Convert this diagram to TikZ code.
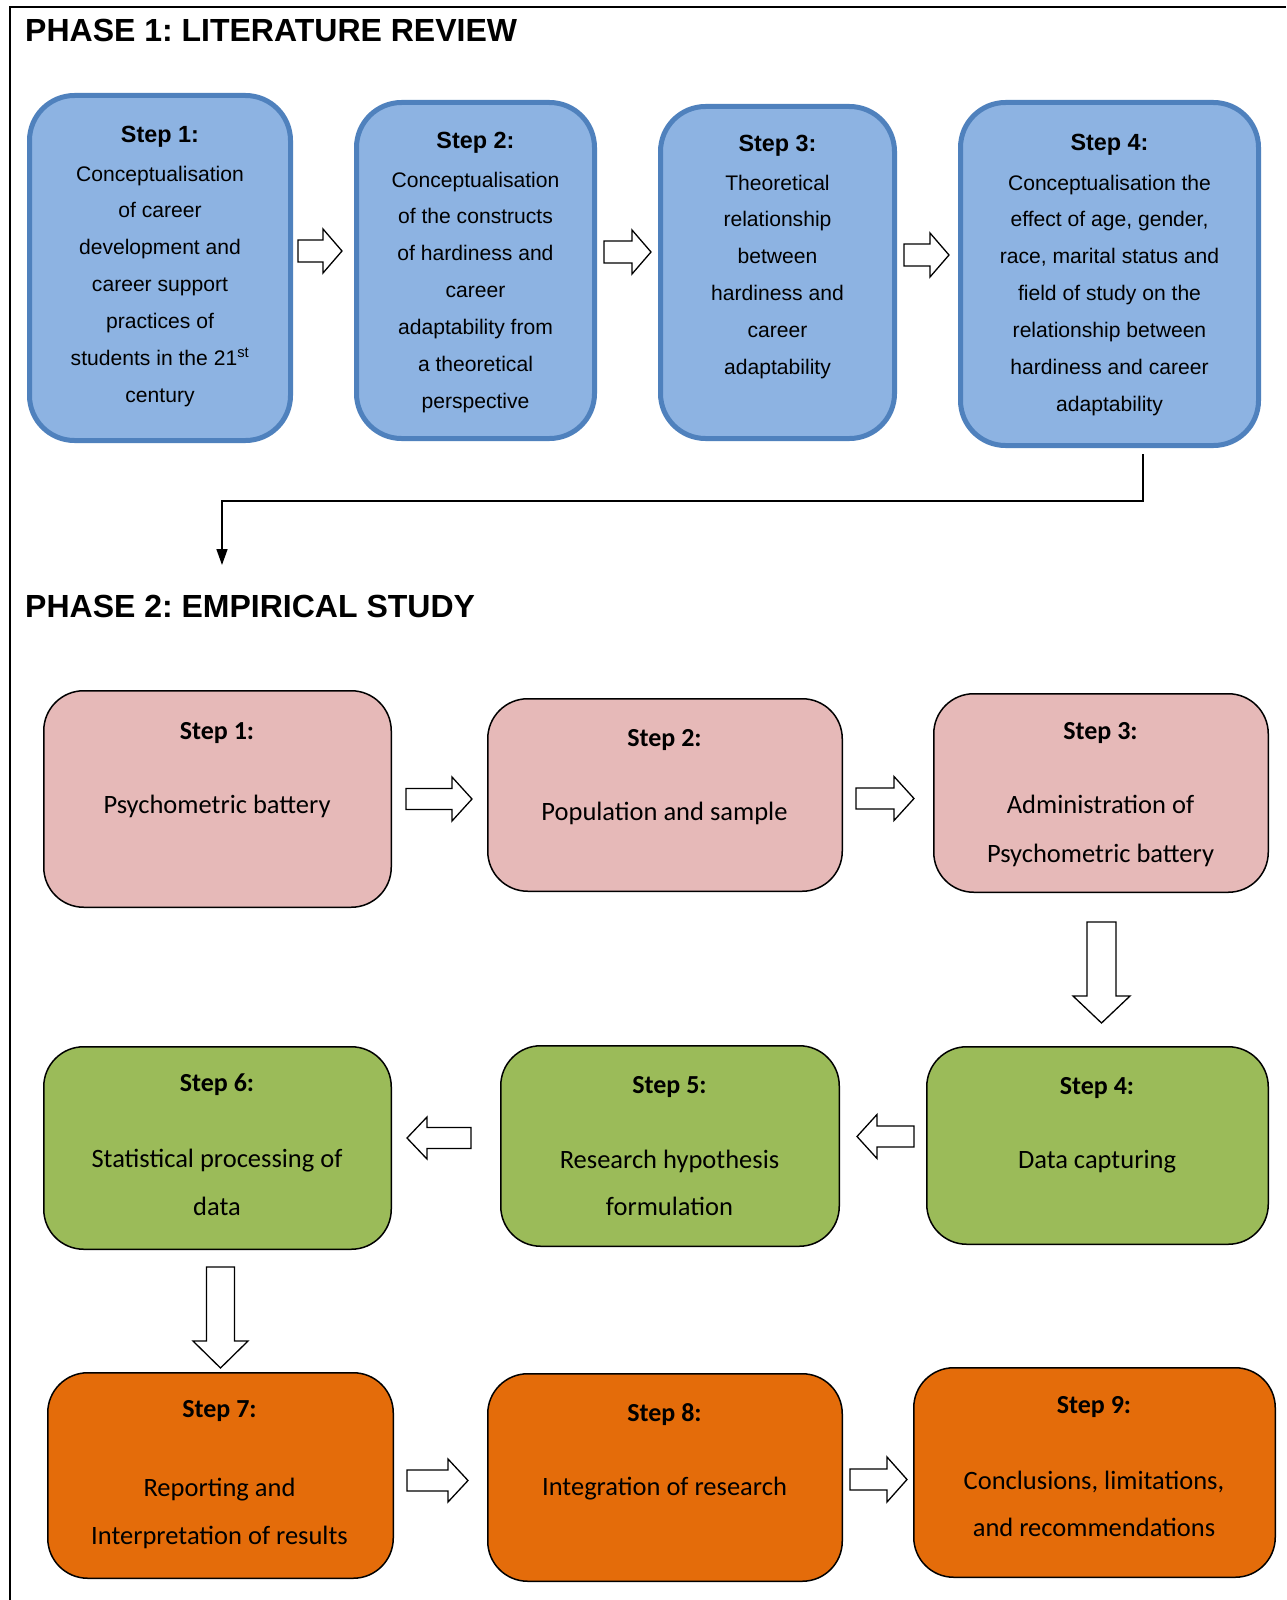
\documentclass[tikz,border=0pt]{standalone}
\usepackage{fontspec}
\setmainfont{Liberation Sans}
\newfontfamily\calibri{Carlito}
\usetikzlibrary{arrows.meta}
\frenchspacing

\definecolor{litfill}{HTML}{8DB3E2}
\definecolor{litedge}{HTML}{4F81BD}
\definecolor{pinkfill}{HTML}{E6B9B8}
\definecolor{greenfill}{HTML}{9BBB59}
\definecolor{orangefill}{HTML}{E46C0A}

\tikzset{
  litbox/.style={draw=litedge, fill=litfill, line width=5pt, rounded corners=45pt,
    inner sep=0pt, outer sep=0pt},
  empbox/.style={draw=black, line width=1.5pt, rounded corners=40pt,
    inner sep=0pt, outer sep=0pt},
  blockarrow/.style={draw=black, fill=white, line width=1.3pt, line join=miter},
  phasetitle/.style={inner sep=0pt, font=\bfseries\fontsize{32}{38}\selectfont},
  litstep/.style={inner sep=0pt, font=\fontsize{23.4}{28}\selectfont\bfseries},
  littext/.style={inner sep=0pt, font=\fontsize{21.1}{25}\selectfont},
  empstep/.style={inner sep=0pt, font=\calibri\fontsize{26}{30}\selectfont\bfseries},
  emptext/.style={inner sep=0pt, font=\calibri\fontsize{26.5}{30}\selectfont},
  flowline/.style={line width=1.6pt, -{Triangle[length=16pt,width=11pt]}},
}

% centred lines of text: name prefix, x, first baseline, line spacing, style, lines
\newcommand\textlines[6]{%
  \foreach \ln [count=\k from 0] in {#6}
    \node[#5, anchor=base] (#1-\k) at (#2, {#3+\k*#4}) {\ln};
}
% horizontal block arrow: tail x, tip x, centre y, half shaft, half head, head length (signed)
\newcommand\harrow[6]{%
  \draw[blockarrow] (#1,{#3-#4}) -- ({#2-(#6)},{#3-#4}) -- ({#2-(#6)},{#3-#5})
    -- (#2,#3) -- ({#2-(#6)},{#3+#5}) -- ({#2-(#6)},{#3+#4}) -- (#1,{#3+#4}) -- cycle;
}
% vertical block arrow: centre x, tail y, tip y, half shaft, half head, head length
\newcommand\varrow[6]{%
  \draw[blockarrow] ({#1-#4},#2) -- ({#1-#4},{#3-(#6)}) -- ({#1-#5},{#3-(#6)})
    -- (#1,#3) -- ({#1+#5},{#3-(#6)}) -- ({#1+#4},{#3-(#6)}) -- ({#1+#4},#2) -- cycle;
}

\begin{document}
\begin{tikzpicture}[x=1pt, y=-1pt]
\useasboundingbox (0,0) rectangle (1286,1600);
\fill[white] (0,0) rectangle (1286,1600);

% frame
\draw[line width=2pt] (10,1600) -- (10,7.5) -- (1286,7.5);

% ---------------- Phase 1 ----------------
\node[phasetitle, anchor=base west] (phase1) at (25,42) {PHASE 1: LITERATURE REVIEW};

\node[litbox, minimum width=261pt, minimum height=345pt] (lit1) at (160,268) {};
\node[litbox, minimum width=238pt, minimum height=336pt] (lit2) at (475.5,270.5) {};
\node[litbox, minimum width=234pt, minimum height=332pt] (lit3) at (777.5,272.5) {};
\node[litbox, minimum width=298pt, minimum height=343pt] (lit4) at (1109.5,274) {};

\node[litstep, anchor=base] (lit1-step) at (160,142.3) {Step 1:};
\textlines{lit1-t}{160}{181}{36.85}{littext}{Conceptualisation, of career,
  development and, career support, practices of,
  students in the 21\textsuperscript{st}, century}

\node[litstep, anchor=base] (lit2-step) at (475.5,148.6) {Step 2:};
\textlines{lit2-t}{475.5}{187}{36.85}{littext}{Conceptualisation, of the constructs,
  of hardiness and, career, adaptability from, a theoretical, perspective}

\node[litstep, anchor=base] (lit3-step) at (777.5,151) {Step 3:};
\textlines{lit3-t}{777.5}{190}{36.85}{littext}{Theoretical, relationship, between,
  hardiness and, career, adaptability}

\node[litstep, anchor=base] (lit4-step) at (1109.5,150.7) {Step 4:};
\textlines{lit4-t}{1109.5}{190}{36.85}{littext}{Conceptualisation the,
  {effect of age, gender,}, {race, marital status and}, field of study on the,
  relationship between, hardiness and career, adaptability}

\harrow{298}{342}{251}{11}{22}{19}
\harrow{604}{651}{252}{11}{22}{19}
\harrow{904}{949}{255}{11}{22}{19}

% link to phase 2
\coordinate (lit-out) at (1143,454);
\coordinate (emp-in) at (222,565);
\draw[flowline] (lit-out) -- ++(0,47) -| (emp-in);

% ---------------- Phase 2 ----------------
\node[phasetitle, anchor=base west] (phase2) at (25,617) {PHASE 2: EMPIRICAL STUDY};

\node[empbox, fill=pinkfill, minimum width=347.5pt, minimum height=216.5pt] (emp1) at (217.5,799) {};
\node[empbox, fill=pinkfill, minimum width=354.5pt, minimum height=192.5pt] (emp2) at (665,795) {};
\node[empbox, fill=pinkfill, minimum width=334.5pt, minimum height=198.5pt] (emp3) at (1101,793) {};
\node[empbox, fill=greenfill, minimum width=341.5pt, minimum height=197.5pt] (emp4) at (1097.5,1145.5) {};
\node[empbox, fill=greenfill, minimum width=338.5pt, minimum height=200.5pt] (emp5) at (670,1146) {};
\node[empbox, fill=greenfill, minimum width=347.5pt, minimum height=202.5pt] (emp6) at (217.5,1148) {};
\node[empbox, fill=orangefill, minimum width=345.5pt, minimum height=205.5pt] (emp7) at (220.5,1475.5) {};
\node[empbox, fill=orangefill, minimum width=354.5pt, minimum height=207.5pt] (emp8) at (665,1477.5) {};
\node[empbox, fill=orangefill, minimum width=361.5pt, minimum height=209.5pt] (emp9) at (1094.5,1472.5) {};

\node[empstep, anchor=base] (emp1-step) at (217,739) {Step 1:};
\textlines{emp1-t}{217}{813}{48}{emptext}{Psychometric battery}

\node[empstep, anchor=base] (emp2-step) at (664.5,746) {Step 2:};
\textlines{emp2-t}{664.5}{820}{48}{emptext}{Population and sample}

\node[empstep, anchor=base] (emp3-step) at (1100.5,739.3) {Step 3:};
\textlines{emp3-t}{1100.5}{813.3}{49.4}{emptext}{Administration of, Psychometric battery}

\node[empstep, anchor=base] (emp4-step) at (1097,1094) {Step 4:};
\textlines{emp4-t}{1097}{1168}{48}{emptext}{Data capturing}

\node[empstep, anchor=base] (emp5-step) at (669.5,1093) {Step 5:};
\textlines{emp5-t}{669.5}{1168}{47.3}{emptext}{Research hypothesis, formulation}

\node[empstep, anchor=base] (emp6-step) at (217,1091.7) {Step 6:};
\textlines{emp6-t}{217}{1167.7}{47.3}{emptext}{Statistical processing of, data}

\node[empstep, anchor=base] (emp7-step) at (219.5,1417.7) {Step 7:};
\textlines{emp7-t}{219.5}{1496}{48}{emptext}{Reporting and, Interpretation of results}

\node[empstep, anchor=base] (emp8-step) at (664.5,1421) {Step 8:};
\textlines{emp8-t}{664.5}{1495}{48}{emptext}{Integration of research}

\node[empstep, anchor=base] (emp9-step) at (1094,1413.3) {Step 9:};
\textlines{emp9-t}{1094}{1489.3}{47.4}{emptext}{{Conclusions, limitations,}, and recommendations}

% block arrows between the steps
\harrow{406}{472}{799}{10.5}{22}{20}
\harrow{856}{914}{798.5}{10.5}{22}{20}
\varrow{1101.5}{922}{1023}{14.5}{28.5}{27}
\harrow{914}{857}{1136.5}{10.5}{22}{-20}
\harrow{471}{407}{1138}{10.5}{21}{-20}
\varrow{220.5}{1267}{1368}{14}{27.5}{27}
\harrow{407}{468}{1480.5}{10.5}{21.5}{20}
\harrow{850}{907}{1479.5}{10.5}{22.5}{20}
\end{tikzpicture}
\end{document}
